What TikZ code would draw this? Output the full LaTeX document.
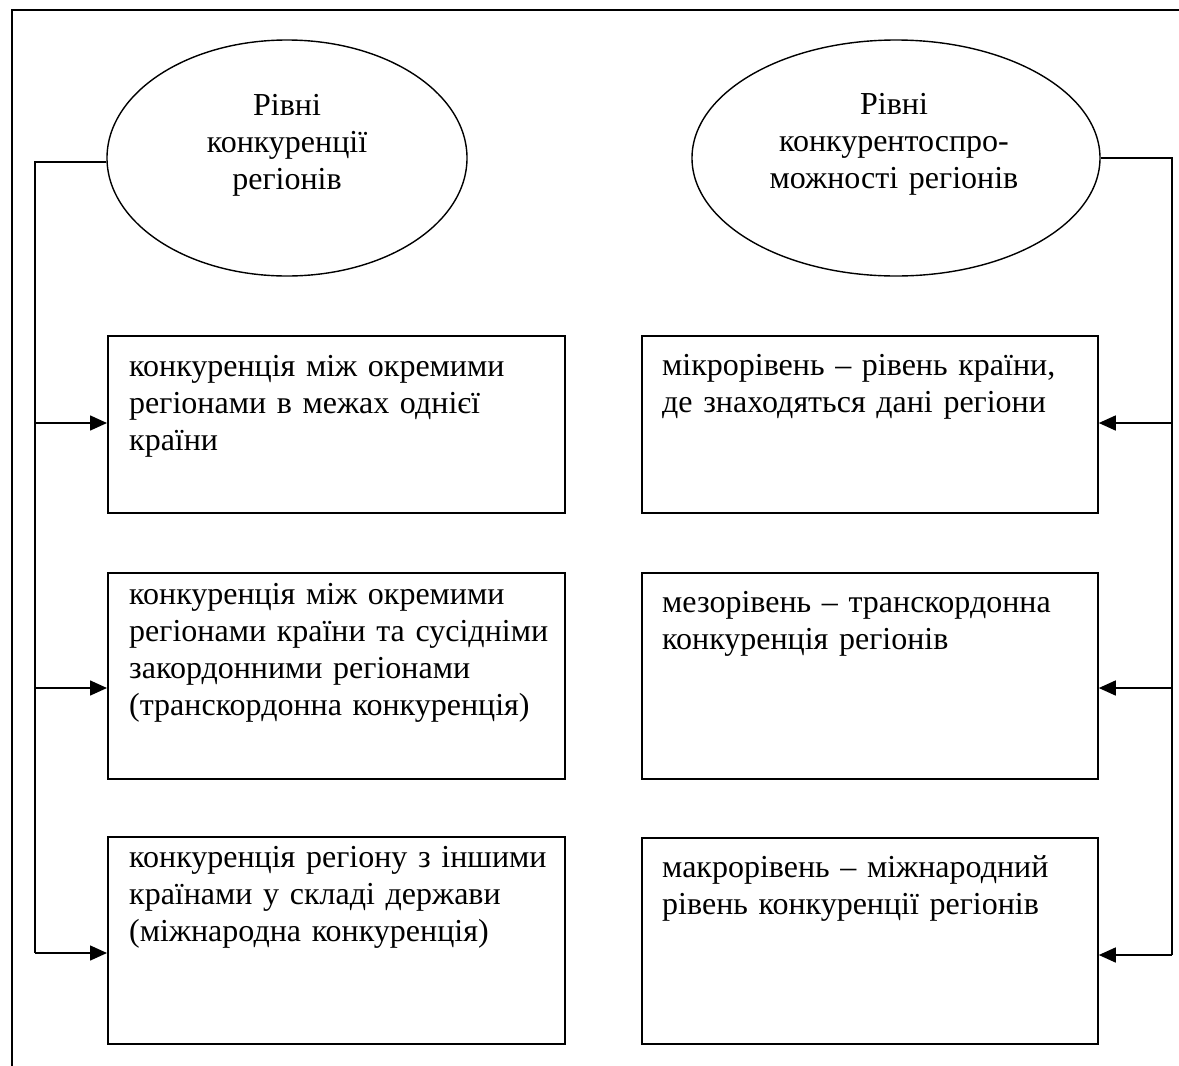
\documentclass[tikz,border=0pt]{standalone}
\usepackage{fontspec}
\setmainfont{Liberation Serif}
\usetikzlibrary{shapes.geometric,arrows.meta}
\begin{document}
\begin{tikzpicture}[x=1pt,y=-1pt,
  frame/.style={line width=1.6pt},
  oval/.style={draw,ellipse,line width=1.4pt,inner sep=0pt},
  levelbox/.style={draw,line width=1.8pt,inner sep=0pt,anchor=north west},
  boxtext/.style={anchor=base west,inner sep=0pt,text width=440pt,align=left,
    font=\fontsize{32}{37}\selectfont},
  ovaltext/.style={anchor=base,inner sep=0pt,text width=380pt,align=center,
    font=\fontsize{32}{37}\selectfont},
  link/.style={line width=1.6pt},
  arr/.style={line width=1.6pt,-{Triangle[length=17pt,width=15pt]}}]
\useasboundingbox (0,0) rectangle (1179,1066);
% outer frame (clipped by page)
\draw[frame] (1179,10) -- (12,10) -- (12,1066);
% ovals
\node[oval,minimum width=360pt,minimum height=236pt] (eL) at (287,158) {};
\node[oval,minimum width=408pt,minimum height=236pt] (eR) at (896,158) {};
\node[ovaltext] (tL) at (287,115) {Рівні\\конкуренції\\регіонів};
\node[ovaltext] (tR) at (894,114) {Рівні\\конкурентоспро-\\можності регіонів};
% boxes
\node[levelbox,minimum width=457pt,minimum height=177pt] (L1) at (107,335) {};
\node[levelbox,minimum width=457pt,minimum height=206pt] (L2) at (107,572) {};
\node[levelbox,minimum width=457pt,minimum height=207pt] (L3) at (107,836) {};
\node[levelbox,minimum width=456pt,minimum height=177pt] (R1) at (641,335) {};
\node[levelbox,minimum width=456pt,minimum height=206pt] (R2) at (641,572) {};
\node[levelbox,minimum width=456pt,minimum height=206pt] (R3) at (641,837) {};
% box texts
\node[boxtext] (xL1) at (129,376) {конкуренція між окремими\\регіонами в межах однієї\\країни};
\node[boxtext] (xL2) at (129,604) {конкуренція між окремими\\регіонами країни та сусідніми\\закордонними регіонами\\(транскордонна конкуренція)};
\node[boxtext] (xL3) at (129,867) {конкуренція регіону з іншими\\країнами у складі держави\\(міжнародна конкуренція)};
\node[boxtext] (xR1) at (662,375) {мікрорівень – рівень країни,\\де знаходяться дані регіони};
\node[boxtext] (xR2) at (662,612) {мезорівень – транскордонна\\конкуренція регіонів};
\node[boxtext] (xR3) at (662,877) {макрорівень – міжнародний\\рівень конкуренції регіонів};
% trunk coordinates
\coordinate (lt) at (35,162);
\coordinate (lb) at (35,953);
\coordinate (rt) at (1172,158);
\coordinate (rb) at (1172,955);
% left connectors
\draw[link] (eL.west |- lt) -- (lt) -- (lb);
\draw[arr] (35,423) -- (L1.west |- 0,423);
\draw[arr] (35,688) -- (L2.west |- 0,688);
\draw[arr] (lb) -- (L3.west |- lb);
% right connectors
\draw[link] (eR.east |- rt) -- (rt) -- (rb);
\draw[arr] (1172,423) -- (R1.east |- 0,423);
\draw[arr] (1172,688) -- (R2.east |- 0,688);
\draw[arr] (rb) -- (R3.east |- rb);
\end{tikzpicture}
\end{document}
